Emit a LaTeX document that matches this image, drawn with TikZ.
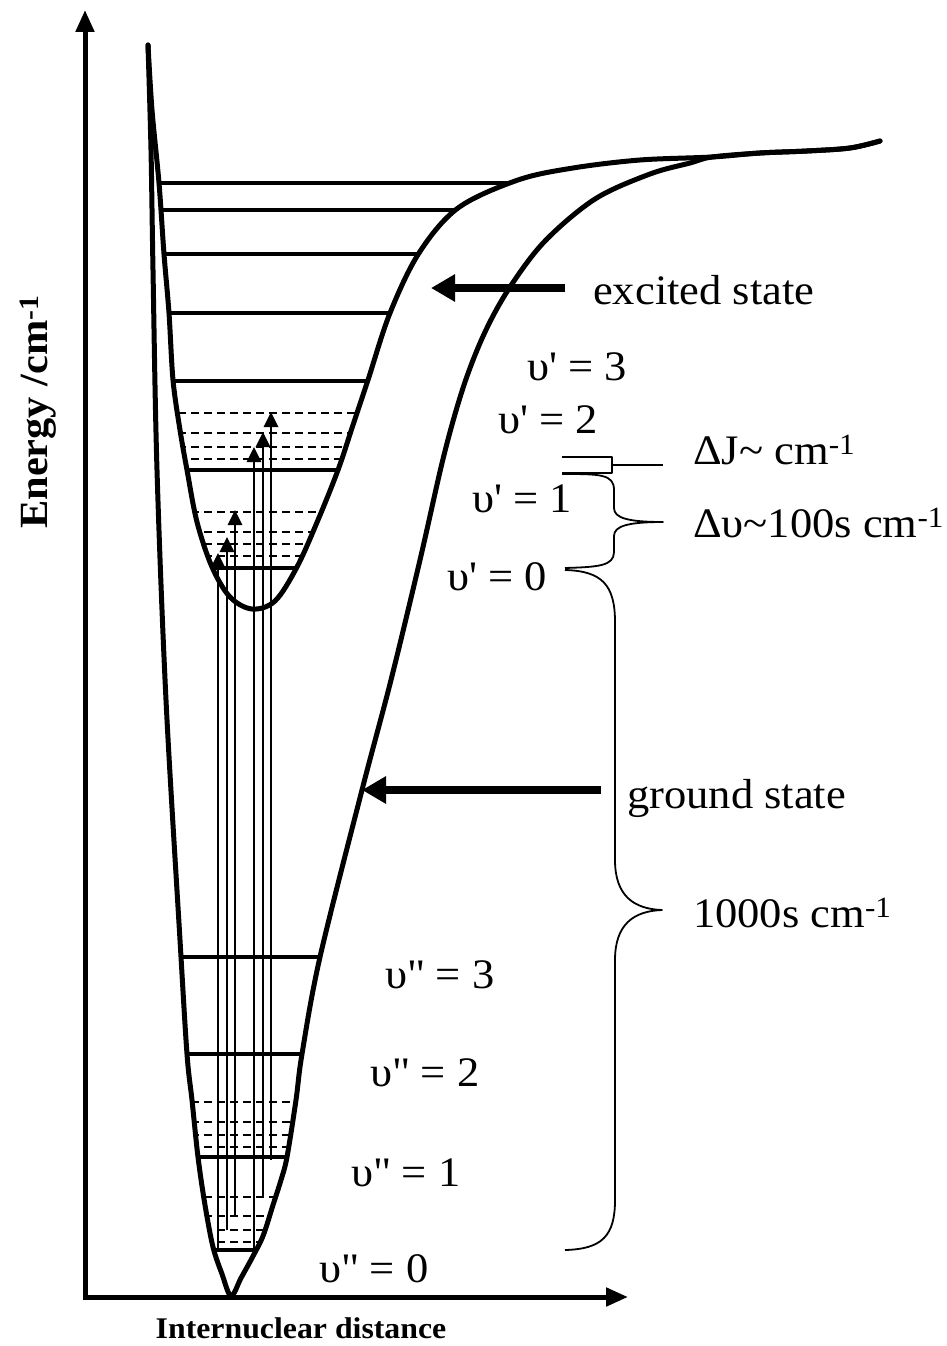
\documentclass[tikz,border=0pt]{standalone}
\usepackage{fontspec}
\setmainfont{Liberation Serif}[FakeStretch=1.06]
\usetikzlibrary{arrows.meta}
\begin{document}
\begin{tikzpicture}[x=1pt,y=-1pt,
  curve/.style={line width=5pt, line join=round, line cap=round},
  lvl/.style={line width=3.2pt},
  sublvl/.style={line width=2.7pt, dash pattern=on 8pt off 5pt},
  trans/.style={line width=2.8pt, -{Triangle[length=15pt,width=14pt]}},
  pointer/.style={line width=7.5pt, -{Triangle[length=24pt,width=26pt]}},
  brace/.style={line width=1.8pt, line join=round},
  axis/.style={line width=5pt, -{Triangle[length=22pt,width=18pt]}},
  lab/.style={font=\fontsize{42}{48}\selectfont, inner sep=0pt},
  blab/.style={font=\fontsize{30}{36}\selectfont\bfseries, inner sep=0pt}
]
\useasboundingbox (0,0) rectangle (946,1346);

% axes
\coordinate (O) at (85,1297);
\coordinate (ytop) at (85,10);
\coordinate (xend) at (628,1297);
\draw[axis] ([yshift=-2.5pt]O) -- (ytop);
\draw[axis] ([xshift=-2.5pt]O) -- (xend);

% ground state curve
\draw[curve] plot[smooth, tension=0.55] coordinates {(148,45) (151,150) (153,270) (157,470) (166,700) (180,940) (187,1054) (192,1100) (198,1157) (205,1205) (213,1247) (222,1274) (231,1296) (241,1278) (252,1258) (263,1236) (273,1205) (281,1180) (287,1157) (296,1100) (302,1054) (320,957) (362,790) (391,680) (420,560) (444,455) (464,385) (485,332) (510,287) (545,241) (595,199) (650,174) (690,163) (712,157) (760,153) (807,151) (850,148) (880,141)};

% excited state curve
\draw[curve] plot[smooth, tension=0.55] coordinates {(148,45) (152,110) (159,183) (164,254) (169,313) (173,380) (180,430) (187,470) (197,522) (212,567) (230,597) (252,609) (275,601) (297,567) (318,520) (338,470) (353,425) (368,380) (390,313) (419,253) (458,208) (518,180) (573,168) (640,160) (712,157) (760,153) (807,151) (850,148) (880,141)};

% excited levels
\begin{scope}
\clip plot[smooth, tension=0.55] coordinates {(148,45) (152,110) (159,183) (164,254) (169,313) (173,380) (180,430) (187,470) (197,522) (212,567) (230,597) (252,609) (275,601) (297,567) (318,520) (338,470) (353,425) (368,380) (390,313) (419,253) (458,208) (518,180) (573,168) (640,160) (712,157) (760,153) (807,151) (850,148) (880,141)} -- cycle;
\foreach \yy in {183,210,254,313,381,470,568} \draw[lvl] (100,\yy) -- (700,\yy);
\foreach \yy in {413,433,447,459,512,532,544,556} \draw[sublvl] (100,\yy) -- (700,\yy);
\end{scope}

% ground levels
\begin{scope}
\clip plot[smooth, tension=0.55] coordinates {(148,45) (151,150) (153,270) (157,470) (166,700) (180,940) (187,1054) (192,1100) (198,1157) (205,1205) (213,1247) (222,1274) (231,1296) (241,1278) (252,1258) (263,1236) (273,1205) (281,1180) (287,1157) (296,1100) (302,1054) (320,957) (362,790) (391,680) (420,560) (444,455) (464,385) (485,332) (510,287) (545,241) (595,199) (650,174) (690,163) (712,157) (760,153) (807,151) (850,148) (880,141)} -- cycle;
\foreach \yy in {957,1054,1157,1250} \draw[lvl] (100,\yy) -- (500,\yy);
\foreach \yy in {1102,1122,1135,1147,1197,1216,1230,1242} \draw[sublvl] (100,\yy) -- (500,\yy);
\end{scope}

% transitions
\draw[trans] (218,1250) -- (218,553);
\draw[trans] (227,1230) -- (227,537);
\draw[trans] (235,1216) -- (235,510);
\draw[trans] (254,1250) -- (254,447);
\draw[trans] (263,1197) -- (263,432);
\draw[trans] (271,1160) -- (271,412);

% state labels and pointers
\node[lab, anchor=base west] (exc) at (593,304) {excited state};
\coordinate (exctip) at (431,288);
\draw[pointer, shorten <=28pt] (exc.west |- exctip) -- (exctip);
\node[lab, anchor=base west] (gnd) at (627,808) {ground state};
\coordinate (gtip) at (362,790);
\draw[pointer, shorten <=26pt] (gnd.west |- gtip) -- (gtip);

% vibrational labels
\node[lab, anchor=base] (v3e) at (577,380) {υ\textquotesingle{} = 3};
\node[lab, anchor=base] (v2e) at (548,433) {υ\textquotesingle{} = 2};
\node[lab, anchor=base] (v1e) at (522,512) {υ\textquotesingle{} = 1};
\node[lab, anchor=base] (v0e) at (497,590) {υ\textquotesingle{} = 0};
\node[lab, anchor=base] (v3g) at (440,988) {υ\textquotedbl{} = 3};
\node[lab, anchor=base] (v2g) at (425,1086) {υ\textquotedbl{} = 2};
\node[lab, anchor=base] (v1g) at (406,1186) {υ\textquotedbl{} = 1};
\node[lab, anchor=base] (v0g) at (374,1282) {υ\textquotedbl{} = 0};

% brackets
\draw[brace] (562,457) -- (612,457) -- (612,473) -- (562,473);
\coordinate (djtick) at (663,465);
\draw[brace] (612,465) -- (djtick);
\node[lab, anchor=base west] (dj) at (693,464) {ΔJ\textasciitilde{} cm\textsuperscript{-1}};

\draw[brace] (562,474) .. controls (600,474) and (614,474) .. (614,490) -- (614,508) .. controls (614,518) and (628,522) .. (663,522) .. controls (628,522) and (614,526) .. (614,536) -- (614,552) .. controls (614,566) and (598,567) .. (565,568);
\node[lab, anchor=base west] (dv) at (693,537) {Δυ\textasciitilde100s cm\textsuperscript{-1}};

\draw[brace] (565,570) .. controls (602,571) and (615,585) .. (615,622) -- (615,860) .. controls (615,896) and (634,909) .. (662,910) .. controls (634,911) and (615,924) .. (615,960) -- (615,1200) .. controls (615,1236) and (602,1249) .. (565,1250);
\node[lab, anchor=base west] (big) at (693,927) {1000s cm\textsuperscript{-1}};

% axis labels
\node[blab, anchor=base] (xl) at (301,1338) {Internuclear distance};
\node[blab, font=\fontsize{40}{46}\selectfont\bfseries, rotate=90] (yl) at (38,412) {Energy /cm\textsuperscript{-1}};
\end{tikzpicture}
\end{document}
